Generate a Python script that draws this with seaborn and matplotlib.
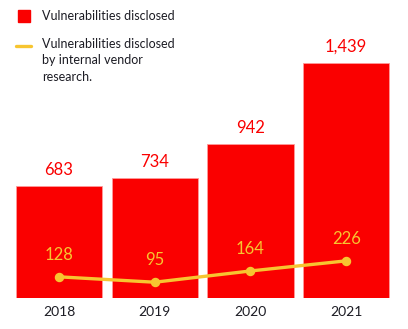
import matplotlib
matplotlib.use("Agg")
import matplotlib.pyplot as plt
import seaborn as sns
from matplotlib.patches import Rectangle
from matplotlib.lines import Line2D

years = ["2018", "2019", "2020", "2021"]
disclosed = [683, 734, 942, 1439]
internal = [128, 95, 164, 226]

RED = "#fa0000"
YELLOW = "#f7c530"
TEXT = "#1c1c24"

sns.set_theme(style="white")
plt.rcParams["font.family"] = ["Lato", "DejaVu Sans"]

fig = plt.figure(figsize=(4.08, 3.29), dpi=100)
ax = fig.add_axes([11.2 / 408, 0.0951, 382.8 / 408, 0.7833])

sns.barplot(x=years, y=disclosed, color=RED, saturation=1, width=0.9,
            edgecolor="#ff9a9a", linewidth=0.6, ax=ax)
sns.pointplot(x=years, y=internal, color=YELLOW, markers="o", markersize=5,
              linewidth=2.4, ax=ax)

ax.set_xlim(-0.5, 3.5)
ax.set_ylim(0, 1580)
ax.set_yticks([])
ax.set_ylabel("")
ax.set_xlabel("")
sns.despine(ax=ax, left=True, bottom=True)
ax.tick_params(axis="x", length=0, pad=6, labelsize=10, labelcolor=TEXT)

for i, v in enumerate(disclosed):
    ax.annotate(f"{v:,}", (i, v), xytext=(0, 6), textcoords="offset points",
                ha="center", va="bottom", color=RED, fontsize=12)
for i, v in enumerate(internal):
    ax.annotate(f"{v:,}", (i, v), xytext=(0, 10), textcoords="offset points",
                ha="center", va="bottom", color=YELLOW, fontsize=12)

# legend drawn in figure pixel space
W, H = 408, 329
fig.add_artist(Rectangle((18 / W, 1 - 22 / H), 12 / W, 12 / H,
                         transform=fig.transFigure, color=RED))
fig.text(42 / W, 1 - 15.5 / H, "Vulnerabilities disclosed", fontsize=9,
         color=TEXT, va="center", ha="left")
fig.add_artist(Line2D([16 / W, 31 / W], [1 - 46 / H, 1 - 46 / H],
                      transform=fig.transFigure, color=YELLOW, linewidth=2.4))
fig.text(42 / W, 1 - 38 / H,
         "Vulnerabilities disclosed\nby internal vendor\nresearch.",
         fontsize=9, color=TEXT, va="top", ha="left", linespacing=1.45)

fig.savefig("out.png", dpi=100)
